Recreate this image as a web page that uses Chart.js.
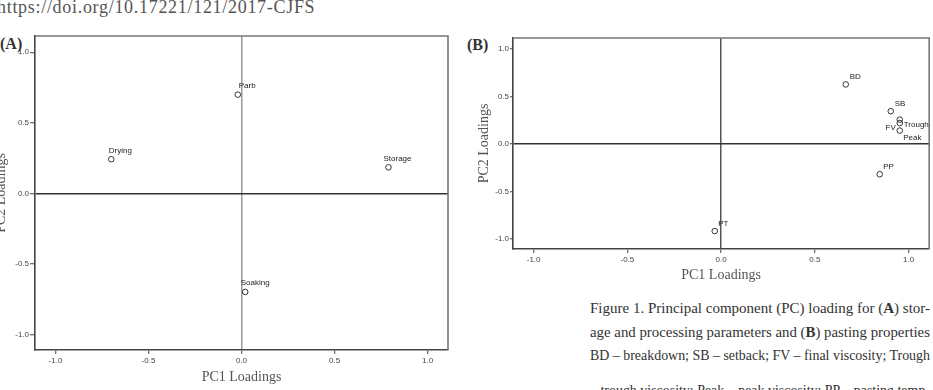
<!DOCTYPE html>
<html><head><meta charset="utf-8">
<script src="https://cdn.jsdelivr.net/npm/chart.js@4.4.1/dist/chart.umd.min.js"></script>
<style>
html,body{margin:0;padding:0;background:#fff;}
body{width:933px;height:390px;overflow:hidden;position:relative;font-family:"Liberation Serif","Times New Roman",serif;color:#333;}
.abs{position:absolute;white-space:nowrap;}
canvas{position:absolute;}
.cap{position:absolute;left:590px;white-space:nowrap;line-height:20px;color:#333;transform-origin:0 50%;}
</style></head><body>
<div class="abs" id="url" style="left:-3px;top:-3px;font-size:18px;letter-spacing:0.7px;line-height:20px;color:#555;">https://doi.org/10.17221/121/2017-CJFS</div>
<div class="abs" style="left:0px;top:34px;font-size:16px;line-height:20px;font-weight:bold;color:#333;">(A)</div>
<div class="abs" style="left:467px;top:35px;font-size:16px;line-height:20px;font-weight:bold;color:#333;">(B)</div>
<canvas id="ca" width="467" height="356" style="left:-7px;top:30px;"></canvas>
<canvas id="cb" width="457" height="254" style="left:476px;top:30px;"></canvas>
<div class="cap" style="top:298px;font-size:15.3px;">Figure 1. Principal component (PC) loading for (<b>A</b>) stor-</div>
<div class="cap" style="top:322px;font-size:15.3px;">age and processing parameters and (<b>B</b>) pasting properties</div>
<div class="cap" style="top:345px;font-size:14.2px;">BD – breakdown; SB – setback; FV – final viscosity; Trough</div>
<div class="cap" style="top:380px;font-size:14.2px;">– trough viscosity; Peak – peak viscosity; PP – pasting temp-</div>
<script>
// ---- data ----
const labelsA = ['Parb', 'Drying', 'Storage', 'Soaking'];
const pc1A = [-0.02, -0.70, 0.79, 0.02];
const pc2A = [0.70, 0.243, 0.186, -0.696];

const labelsB = ['BD', 'SB', 'Trough', 'FV', 'Peak', 'PP', 'PT'];
const pc1B = [0.665, 0.905, 0.953, 0.953, 0.953, 0.846, -0.034];
const pc2B = [0.626, 0.344, 0.256, 0.219, 0.14, -0.32, -0.918];

const axisTicks = [-1.0, -0.5, 0.0, 0.5, 1.0];

// fit caption lines to the column width
document.querySelectorAll('.cap').forEach(el => {
  const w = el.getBoundingClientRect().width;
  el.style.transform = 'scaleX(' + (340 / w) + ')';
});

// ---- label placement (style) ----
const labelPlaceA = {Parb:[1,-9,'left'], Drying:[-2.5,-8.5,'left'], Storage:[-5,-8.5,'left'], Soaking:[-4.5,-8.7,'left']};
const labelPlaceB = {BD:[4,-7.5,'left'], SB:[4,-7,'left'], Trough:[4,5,'left'], FV:[-4,4.7,'right'], Peak:[3.5,7.7,'left'], PP:[3.5,-7.7,'left'], PT:[3.5,-7.6,'left']};

const pointLabels = {
  id: 'pointLabels',
  afterDatasetsDraw(chart, args, opts) {
    const ctx = chart.ctx;
    const meta = chart.getDatasetMeta(0);
    ctx.save();
    ctx.font = '8px "Liberation Sans", Arial, sans-serif';
    ctx.fillStyle = '#222';
    ctx.textBaseline = 'middle';
    opts.labels.forEach((lab, i) => {
      const el = meta.data[i];
      const p = opts.place[lab] || [3, -8, 'left'];
      ctx.textAlign = p[2];
      ctx.fillText(lab, el.x + p[0], el.y + p[1]);
    });
    ctx.restore();
  }
};

const frame = {
  id: 'frame',
  beforeDatasetsDraw(chart, args, opts) {
    const {ctx, chartArea: a} = chart;
    ctx.save();
    ctx.strokeStyle = '#777';
    ctx.lineWidth = 1.6;
    ctx.beginPath();
    ctx.moveTo(a.left, a.top);
    ctx.lineTo(a.right, a.top);
    ctx.lineTo(a.right, a.bottom);
    ctx.stroke();
    ctx.restore();
  }
};

function makeChart(id, xs, ys, labels, place, cfg) {
  const pts = xs.map((x, i) => ({x: x, y: ys[i]}));
  const tickFont = {family: '"Liberation Sans", Arial, sans-serif', size: 8};
  const titleFont = {family: '"Liberation Serif", "Times New Roman", serif', size: 14};
  return new Chart(document.getElementById(id), {
    type: 'scatter',
    data: {datasets: [{
      data: pts,
      pointStyle: 'circle',
      pointRadius: 2.8,
      pointHoverRadius: 2.8,
      borderWidth: 1,
      borderColor: '#333',
      backgroundColor: 'rgba(255,255,255,0)'
    }]},
    options: {
      responsive: false,
      animation: false,
      events: [],
      layout: {padding: cfg.padding},
      plugins: {
        legend: {display: false},
        tooltip: {enabled: false},
        pointLabels: {labels: labels, place: place}
      },
      scales: {
        x: {
          type: 'linear', min: -1.11, max: 1.11,
          afterBuildTicks: s => { s.ticks = axisTicks.map(v => ({value: v})); },
          afterFit: s => { s.height = cfg.xh; },
          grid: {
            color: c => (c.tick && c.tick.value === 0) ? cfg.vzero : 'rgba(0,0,0,0)',
            lineWidth: 1.5,
            drawTicks: true, tickLength: 4, tickColor: '#444', tickWidth: 1
          },
          border: {display: true, color: '#444', width: 1.6},
          ticks: {font: tickFont, color: '#444', padding: 2, maxRotation: 0, callback: v => Number(v).toFixed(1)},
          title: {display: true, text: 'PC1 Loadings', font: titleFont, color: '#555', padding: {top: 0, bottom: 0}}
        },
        y: {
          type: 'linear', min: -1.107, max: 1.115,
          afterBuildTicks: s => { s.ticks = axisTicks.map(v => ({value: v})); },
          afterFit: s => { s.width = cfg.yw; },
          grid: {
            color: c => (c.tick && c.tick.value === 0) ? '#333' : 'rgba(0,0,0,0)',
            lineWidth: 1.5,
            drawTicks: true, tickLength: cfg.ytl, tickColor: '#444', tickWidth: 1
          },
          border: {display: true, color: '#444', width: 1.6},
          ticks: {font: tickFont, color: '#444', padding: 1, callback: v => Number(v).toFixed(1)},
          title: {display: true, text: 'PC2 Loadings', font: titleFont, color: '#555', padding: {top: 0, bottom: 0}}
        }
      }
    },
    plugins: [frame, pointLabels]
  });
}

makeChart('ca', pc1A, pc2A, labelsA, labelPlaceA,
  {padding: {top: 6, right: 12, left: 0, bottom: 0}, xh: 36, yw: 42, ytl: 5, vzero: '#999'});
makeChart('cb', pc1B, pc2B, labelsB, labelPlaceB,
  {padding: {top: 8, right: 3, left: 0, bottom: 0}, xh: 35, yw: 37, ytl: 3, vzero: '#555'});
</script>
</body></html>
